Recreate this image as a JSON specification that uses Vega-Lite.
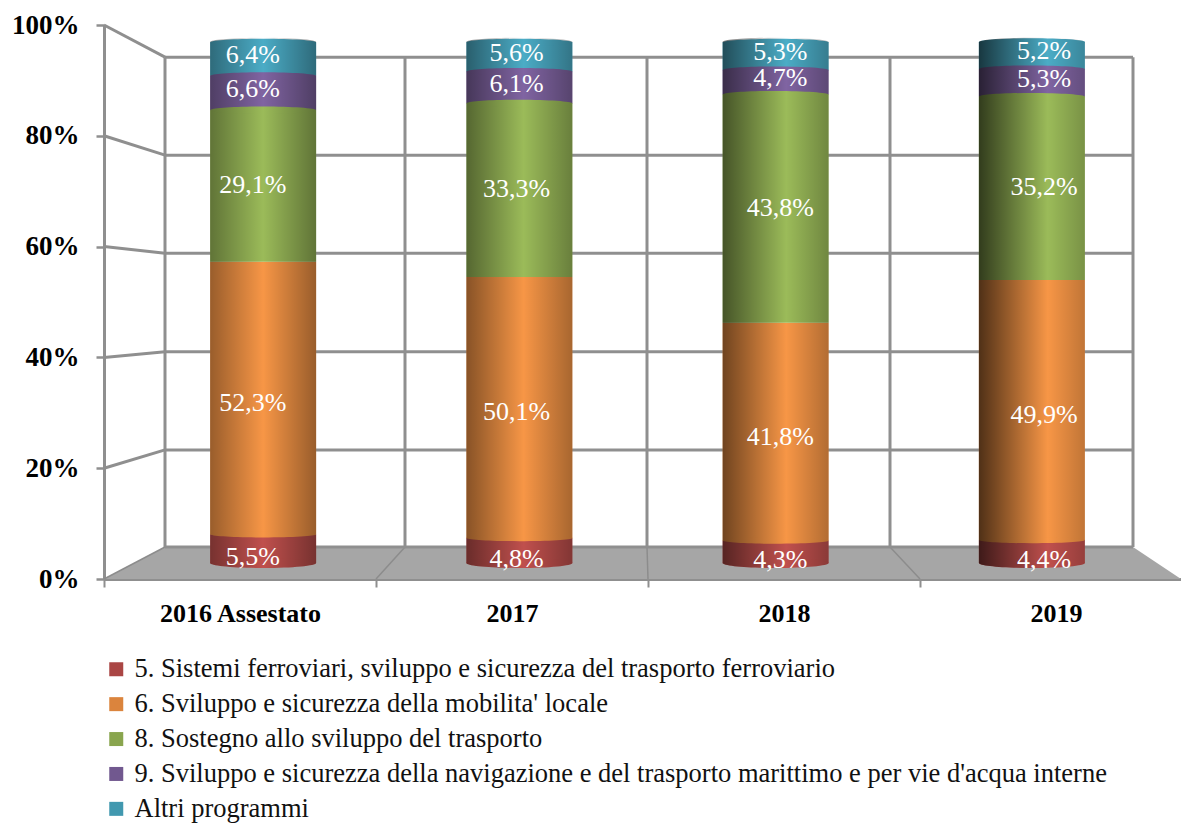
{"$schema":"https://vega.github.io/schema/vega-lite/v6.json","width":1077,"height":554,"autosize":{"type":"none"},"padding":{"left":104,"top":25,"right":0,"bottom":245},"background":"white",
"config":{"view":{"stroke":null},"font":"Liberation Serif"},
"datasets":{
"wall":[{"x":61,"x2":1029,"y":5.78,"y2":5.78},{"x":61,"x2":1029,"y":23.3,"y2":23.3},{"x":61,"x2":1029,"y":41,"y2":41},{"x":61,"x2":1029,"y":58.8,"y2":58.8},{"x":61,"x2":1029,"y":76.5,"y2":76.5},{"x":61,"x2":1029,"y":94.2,"y2":94.2},
{"x":61,"x2":61,"y":5.78,"y2":94.2},{"x":301,"x2":301,"y":5.78,"y2":94.2},{"x":543,"x2":543,"y":5.78,"y2":94.2},{"x":786,"x2":786,"y":5.78,"y2":94.2},{"x":1029,"x2":1029,"y":5.78,"y2":94.2},
{"x":0,"x2":61,"y":20,"y2":23.3},{"x":0,"x2":61,"y":40,"y2":41},{"x":0,"x2":61,"y":60,"y2":58.8},{"x":0,"x2":61,"y":80,"y2":76.5},{"x":0,"x2":61,"y":100,"y2":94.2}],
"floor":[{"x":0,"top":0},{"x":61,"top":5.78},{"x":1029,"top":5.78},{"x":1077,"top":0}],
"floorlines":[{"x":272,"x2":301,"y":0,"y2":5.78},{"x":544,"x2":543,"y":0,"y2":5.78},{"x":816,"x2":786,"y":0,"y2":5.78},{"x":0,"x2":61,"y":0,"y2":5.78}],
"bars":[
{"year":"2016 Assestato","program":"5. Sistemi ferroviari, sviluppo e sicurezza del trasporto ferroviario","value":5.5},
{"year":"2016 Assestato","program":"6. Sviluppo e sicurezza della mobilita' locale","value":52.3},
{"year":"2016 Assestato","program":"8. Sostegno allo sviluppo del trasporto","value":29.1},
{"year":"2016 Assestato","program":"9. Sviluppo e sicurezza della navigazione e del trasporto marittimo e per vie d'acqua interne","value":6.6},
{"year":"2016 Assestato","program":"Altri programmi","value":6.4},
{"year":"2017","program":"5. Sistemi ferroviari, sviluppo e sicurezza del trasporto ferroviario","value":4.8},
{"year":"2017","program":"6. Sviluppo e sicurezza della mobilita' locale","value":50.1},
{"year":"2017","program":"8. Sostegno allo sviluppo del trasporto","value":33.3},
{"year":"2017","program":"9. Sviluppo e sicurezza della navigazione e del trasporto marittimo e per vie d'acqua interne","value":6.1},
{"year":"2017","program":"Altri programmi","value":5.6},
{"year":"2018","program":"5. Sistemi ferroviari, sviluppo e sicurezza del trasporto ferroviario","value":4.3},
{"year":"2018","program":"6. Sviluppo e sicurezza della mobilita' locale","value":41.8},
{"year":"2018","program":"8. Sostegno allo sviluppo del trasporto","value":43.8},
{"year":"2018","program":"9. Sviluppo e sicurezza della navigazione e del trasporto marittimo e per vie d'acqua interne","value":4.7},
{"year":"2018","program":"Altri programmi","value":5.3},
{"year":"2019","program":"5. Sistemi ferroviari, sviluppo e sicurezza del trasporto ferroviario","value":4.4},
{"year":"2019","program":"6. Sviluppo e sicurezza della mobilita' locale","value":49.9},
{"year":"2019","program":"8. Sostegno allo sviluppo del trasporto","value":35.2},
{"year":"2019","program":"9. Sviluppo e sicurezza della navigazione e del trasporto marittimo e per vie d'acqua interne","value":5.3},
{"year":"2019","program":"Altri programmi","value":5.2}]},
"resolve":{"scale":{"x":"independent","y":"independent","color":"independent"},"axis":{"x":"independent","y":"independent"}},
"layer":[
{"data":{"name":"floor"},"mark":{"type":"area","color":"#a6a6a6"},
 "encoding":{"x":{"field":"x","type":"quantitative","axis":null,"scale":{"domain":[0,1077]}},"y":{"field":"top","type":"quantitative","stack":null,"axis":null,"scale":{"domain":[0,100]}},"y2":{"datum":0}}},
{"data":{"name":"floorlines"},"mark":{"type":"rule","color":"#8c8c8c","strokeWidth":1.5},
 "encoding":{"x":{"field":"x","type":"quantitative","axis":null,"scale":{"domain":[0,1077]}},"x2":{"field":"x2"},"y":{"field":"y","type":"quantitative","axis":null,"scale":{"domain":[0,100]}},"y2":{"field":"y2"}}},
{"data":{"name":"wall"},"mark":{"type":"rule","color":"#8f8f8f","strokeWidth":3},
 "encoding":{"x":{"field":"x","type":"quantitative","axis":null,"scale":{"domain":[0,1077]}},"x2":{"field":"x2"},
 "y":{"field":"y","type":"quantitative","scale":{"domain":[0,100]},"axis":{"orient":"left","title":null,"values":[0,20,40,60,80,100],"labelExpr":"datum.value+'%'","labelFont":"Liberation Serif","labelFontWeight":"bold","labelFontSize":27,"labelColor":"#000","labelPadding":17,"tickSize":8,"tickWidth":2.5,"tickColor":"#8f8f8f","domainColor":"#8f8f8f","domainWidth":3,"grid":false}},"y2":{"field":"y2"}}},
{"data":{"values":[{"year":"2016 Assestato","y":0},{"year":"2017","y":0},{"year":"2018","y":0},{"year":"2019","y":0}]},"mark":{"type":"rule","opacity":0},
 "encoding":{"x":{"field":"year","type":"nominal","scale":{"type":"band","domain":["2016 Assestato","2017","2018","2019"],"range":[0,1088],"paddingInner":0,"paddingOuter":0},"axis":{"orient":"bottom","title":null,"labelAngle":0,"tickBand":"extent","labelFont":"Liberation Serif","labelFontWeight":"bold","labelFontSize":26,"labelColor":"#000","labelPadding":13,"tickSize":8,"tickWidth":2,"tickColor":"#8f8f8f","domainColor":"#8f8f8f","domainWidth":3,"grid":false}}}},
{"data":{"name":"bars"},"transform":[{"stack":"value","groupby":["year"],"sort":[{"field":"program"}],"as":["y0","y1"]}],"mark":{"type":"bar","width":106,"opacity":1},
 "encoding":{"x":{"field":"year","type":"nominal","axis":null,"scale":{"type":"band","domain":["2016 Assestato","2017","2018","2019"],"range":[31,1056],"paddingInner":0,"paddingOuter":0}},
 "y":{"field":"y0","type":"quantitative","axis":null,"scale":{"domain":[0,100],"range":[538,17]}},"y2":{"field":"y1"},
 "color":{"field":"program","type":"nominal","legend":null,"scale":{"range":["#C0504D","#F79646","#9BBB59","#8064A2","#4BACC6"]}}}},
{"data":{"name":"bars"},"transform":[{"stack":"value","groupby":["year"],"sort":[{"field":"program"}],"as":["y0","y1"]},{"filter":"indexof(datum.program,'5.')==0"}],"mark":{"type":"point","filled":true,"opacity":1,"size":11236,"shape":"M-1,0A1,.094 0 0 1 1,0A1,.094 0 0 1 -1,0Z","color":"#C0504D"},
 "encoding":{"x":{"field":"year","type":"nominal","axis":null,"scale":{"type":"band","domain":["2016 Assestato","2017","2018","2019"],"range":[31,1056],"paddingInner":0,"paddingOuter":0}},
 "y":{"field":"y0","type":"quantitative","axis":null,"scale":{"domain":[0,100],"range":[538,17]}}}},
{"data":{"name":"bars"},"transform":[{"stack":"value","groupby":["year"],"sort":[{"field":"program"}],"as":["y0","y1"]},{"filter":"indexof(datum.program,'6.')==0"}],"mark":{"type":"point","filled":true,"opacity":1,"size":11236,"shape":"M-1,0A1,.06 0 0 1 1,0A1,.06 0 0 1 -1,0Z","color":"#F79646"},
 "encoding":{"x":{"field":"year","type":"nominal","axis":null,"scale":{"type":"band","domain":["2016 Assestato","2017","2018","2019"],"range":[31,1056],"paddingInner":0,"paddingOuter":0}},
 "y":{"field":"y0","type":"quantitative","axis":null,"scale":{"domain":[0,100],"range":[538,17]}}}},
{"data":{"name":"bars"},"transform":[{"stack":"value","groupby":["year"],"sort":[{"field":"program"}],"as":["y0","y1"]},{"filter":"indexof(datum.program,'8.')==0 || indexof(datum.program,'9.')==0 || indexof(datum.program,'Altri')==0"}],"mark":{"type":"point","filled":true,"opacity":1,"size":11236,"shape":"M-1,0A1,.07 0 0 1 1,0A1,.07 0 0 1 -1,0Z"},
 "encoding":{"x":{"field":"year","type":"nominal","axis":null,"scale":{"type":"band","domain":["2016 Assestato","2017","2018","2019"],"range":[31,1056],"paddingInner":0,"paddingOuter":0}},
 "y":{"field":"y1","type":"quantitative","axis":null,"scale":{"domain":[0,100],"range":[538,17]}},
 "color":{"field":"program","type":"nominal","legend":null,"scale":{"domain":["8. Sostegno allo sviluppo del trasporto","9. Sviluppo e sicurezza della navigazione e del trasporto marittimo e per vie d'acqua interne","Altri programmi"],"range":["#9BBB59","#8064A2","#4BACC6"]}}}},
{"data":{"values":[{"year":"2016 Assestato","mid":50}]},"mark":{"type":"point","filled":true,"opacity":1,"size":11236,"shape":"M-1,-4.915A1,.08 0 0 1 1,-4.915L1,4.915A1,.094 0 0 1 -1,4.915Z","fill":{"gradient":"linear","x1":0,"x2":1,"y1":0,"y2":0,"stops":[{"offset":0,"color":"rgba(0,0,0,0.38)"},{"offset":0.5,"color":"rgba(0,0,0,0)"},{"offset":1,"color":"rgba(0,0,0,0.38)"}]}},
 "encoding":{"x":{"field":"year","type":"nominal","axis":null,"scale":{"type":"band","domain":["2016 Assestato","2017","2018","2019"],"range":[31,1056],"paddingInner":0,"paddingOuter":0}},"y":{"field":"mid","type":"quantitative","axis":null,"scale":{"domain":[0,100],"range":[538,17]}}}},
{"data":{"values":[{"year":"2017","mid":50}]},"mark":{"type":"point","filled":true,"opacity":1,"size":11236,"shape":"M-1,-4.915A1,.08 0 0 1 1,-4.915L1,4.915A1,.094 0 0 1 -1,4.915Z","fill":{"gradient":"linear","x1":0,"x2":1,"y1":0,"y2":0,"stops":[{"offset":0,"color":"rgba(0,0,0,0.45)"},{"offset":0.54,"color":"rgba(0,0,0,0)"},{"offset":1,"color":"rgba(0,0,0,0.32)"}]}},
 "encoding":{"x":{"field":"year","type":"nominal","axis":null,"scale":{"type":"band","domain":["2016 Assestato","2017","2018","2019"],"range":[31,1056],"paddingInner":0,"paddingOuter":0}},"y":{"field":"mid","type":"quantitative","axis":null,"scale":{"domain":[0,100],"range":[538,17]}}}},
{"data":{"values":[{"year":"2018","mid":50}]},"mark":{"type":"point","filled":true,"opacity":1,"size":11236,"shape":"M-1,-4.915A1,.08 0 0 1 1,-4.915L1,4.915A1,.094 0 0 1 -1,4.915Z","fill":{"gradient":"linear","x1":0,"x2":1,"y1":0,"y2":0,"stops":[{"offset":0,"color":"rgba(0,0,0,0.55)"},{"offset":0.6,"color":"rgba(0,0,0,0)"},{"offset":1,"color":"rgba(0,0,0,0.28)"}]}},
 "encoding":{"x":{"field":"year","type":"nominal","axis":null,"scale":{"type":"band","domain":["2016 Assestato","2017","2018","2019"],"range":[31,1056],"paddingInner":0,"paddingOuter":0}},"y":{"field":"mid","type":"quantitative","axis":null,"scale":{"domain":[0,100],"range":[538,17]}}}},
{"data":{"values":[{"year":"2019","mid":50}]},"mark":{"type":"point","filled":true,"opacity":1,"size":11236,"shape":"M-1,-4.915A1,.08 0 0 1 1,-4.915L1,4.915A1,.094 0 0 1 -1,4.915Z","fill":{"gradient":"linear","x1":0,"x2":1,"y1":0,"y2":0,"stops":[{"offset":0,"color":"rgba(0,0,0,0.68)"},{"offset":0.65,"color":"rgba(0,0,0,0)"},{"offset":1,"color":"rgba(0,0,0,0.22)"}]}},
 "encoding":{"x":{"field":"year","type":"nominal","axis":null,"scale":{"type":"band","domain":["2016 Assestato","2017","2018","2019"],"range":[31,1056],"paddingInner":0,"paddingOuter":0}},"y":{"field":"mid","type":"quantitative","axis":null,"scale":{"domain":[0,100],"range":[538,17]}}}},
{"data":{"name":"bars"},"transform":[{"stack":"value","groupby":["year"],"sort":[{"field":"program"}],"as":["y0","y1"]},{"calculate":"(datum.y0+datum.y1)/2","as":"mid"},{"calculate":"replace(format(datum.value,'.1f'),'.',',')+'%'","as":"label"}],"mark":{"type":"text","color":"white","font":"Liberation Serif","fontSize":26,"baseline":"middle","dy":1},
 "encoding":{"x":{"field":"year","type":"nominal","axis":null,"scale":{"type":"band","domain":["2016 Assestato","2017","2018","2019"],"range":[17,1072],"paddingInner":0,"paddingOuter":0}},
 "y":{"field":"mid","type":"quantitative","axis":null,"scale":{"domain":[0,100],"range":[546,11]}},"text":{"field":"label"}}},
{"data":{"name":"bars"},"mark":{"type":"point","filled":true,"opacity":0,"size":1},
 "encoding":{"x":{"field":"year","type":"nominal","axis":null,"scale":{"type":"band","domain":["2016 Assestato","2017","2018","2019"],"range":[31,1056],"paddingInner":0,"paddingOuter":0}},
 "y":{"datum":0,"type":"quantitative","axis":null,"scale":{"domain":[0,100]}},
 "color":{"field":"program","type":"nominal","scale":{"range":["#AA4644","#DB843D","#89A54E","#71588F","#4198AF"]},
 "legend":{"orient":"none","legendX":-1,"legendY":631,"title":null,"symbolType":"square","symbolSize":196,"symbolOpacity":1,"symbolStrokeWidth":0,"labelFont":"Liberation Serif","labelFontSize":26.5,"labelColor":"#111","labelLimit":1100,"labelOffset":5,"rowPadding":7.9}}}}
]}
